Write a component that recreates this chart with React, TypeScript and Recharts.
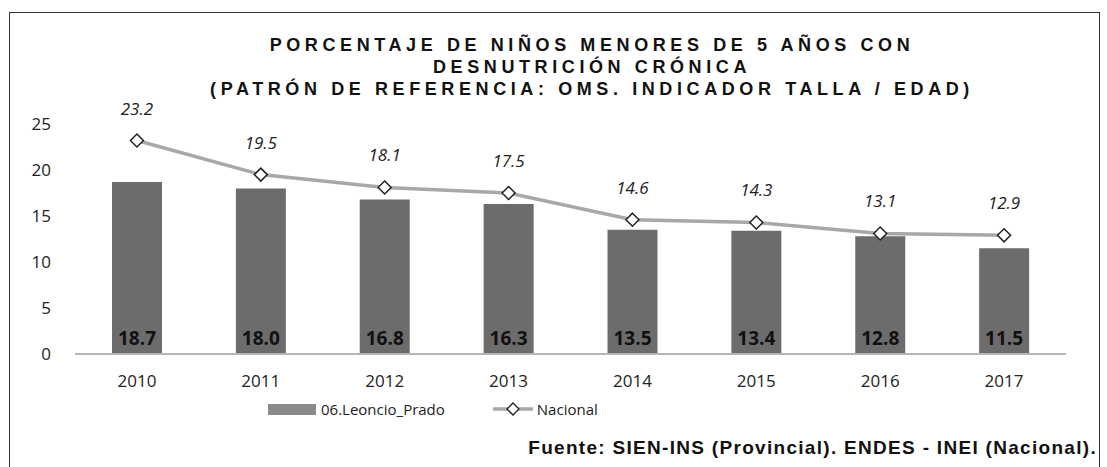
import React from 'react';
import { ComposedChart, Bar, Line, XAxis, YAxis, LabelList } from 'recharts';

const years = ['2010', '2011', '2012', '2013', '2014', '2015', '2016', '2017'];
const leoncioPrado = [18.7, 18.0, 16.8, 16.3, 13.5, 13.4, 12.8, 11.5];
const nacional = [23.2, 19.5, 18.1, 17.5, 14.6, 14.3, 13.1, 12.9];
const yTicks = [0, 5, 10, 15, 20, 25];

const data = years.map((year, i) => ({
  year,
  leoncio: leoncioPrado[i],
  nacional: nacional[i],
}));

const font = '"Liberation Sans", Arial, sans-serif';
const tickFont = '"Open Sans", "DejaVu Sans", sans-serif';

const Diamond = (props: any) => {
  const { cx, cy, index } = props;
  if (cx == null || cy == null) return null;
  const r = 6.5;
  return (
    <polygon
      key={`d-${index}`}
      points={`${cx},${cy - r} ${cx + r},${cy} ${cx},${cy + r} ${cx - r},${cy}`}
      fill="#fff"
      stroke="#222"
      strokeWidth={1.5}
    />
  );
};

const titleStyle: React.CSSProperties = {
  position: 'absolute',
  left: 0,
  width: 1184,
  textAlign: 'center',
  fontFamily: font,
  fontWeight: 'bold',
  fontSize: 18,
  letterSpacing: 4.6,
  color: '#111',
  lineHeight: '22px',
};

export default function App() {
  return (
    <div
      style={{
        position: 'absolute',
        left: 0,
        top: 0,
        width: 1107,
        height: 467,
        overflow: 'hidden',
        background: '#fff',
      }}
    >
      <div
        style={{
          position: 'absolute',
          left: 9,
          top: 12,
          width: 1089,
          height: 480,
          border: '1.5px solid #333',
        }}
      />
      <div style={{ ...titleStyle, top: 34 }}>PORCENTAJE DE NIÑOS MENORES DE 5 AÑOS CON</div>
      <div style={{ ...titleStyle, top: 56 }}>DESNUTRICIÓN CRÓNICA</div>
      <div style={{ ...titleStyle, top: 78 }}>(PATRÓN DE REFERENCIA: OMS. INDICADOR TALLA / EDAD)</div>

      <div style={{ position: 'absolute', left: 0, top: 0 }}>
        <ComposedChart
          width={1107}
          height={467}
          data={data}
          margin={{ top: 124, right: 41, bottom: 83, left: 20 }}
        >
          <XAxis
            dataKey="year"
            height={30}
            tickLine={false}
            axisLine={{ stroke: '#b5b5b5', strokeWidth: 2 }}
            tick={{ fill: '#222', fontSize: 17, fontFamily: tickFont }}
            tickMargin={15}
          />
          <YAxis
            width={55}
            domain={[0, 25]}
            ticks={yTicks}
            axisLine={false}
            tickLine={false}
            tickSize={0}
            tickMargin={24}
            tick={{ fill: '#222', fontSize: 17, fontFamily: tickFont }}
          />
          <Bar dataKey="leoncio" fill="#6c6c6c" barSize={50} isAnimationActive={false}>
            <LabelList
              dataKey="leoncio"
              position="insideBottom"
              offset={9}
              formatter={(v: any) => Number(v).toFixed(1)}
              style={{ fill: '#111', fontSize: 19, fontWeight: 'bold', fontFamily: tickFont }}
            />
          </Bar>
          <Line
            dataKey="nacional"
            type="linear"
            stroke="#a8a8a8"
            strokeWidth={3.5}
            dot={<Diamond />}
            isAnimationActive={false}
          >
            <LabelList
              dataKey="nacional"
              position="top"
              offset={26}
              formatter={(v: any) => Number(v).toFixed(1)}
              style={{ fill: '#222', fontSize: 17, fontStyle: 'italic', fontFamily: tickFont }}
            />
          </Line>
        </ComposedChart>
      </div>

      <div
        style={{
          position: 'absolute',
          top: 399,
          left: 268,
          display: 'flex',
          alignItems: 'center',
          fontFamily: tickFont,
          fontSize: 15,
          color: '#222',
        }}
      >
        <span style={{ display: 'inline-block', width: 48, height: 11, background: '#8a8a8a', marginRight: 5 }} />
        <span>06.Leoncio_Prado</span>
        <svg width={40} height={14} style={{ marginLeft: 48, marginRight: 4 }}>
          <line x1={0} y1={7} x2={40} y2={7} stroke="#a8a8a8" strokeWidth={3.5} />
          <polygon points="20,1 26,7 20,13 14,7" fill="#fff" stroke="#222" strokeWidth={1.3} />
        </svg>
        <span>Nacional</span>
      </div>

      <div
        style={{
          position: 'absolute',
          top: 437,
          right: 10,
          fontFamily: font,
          fontWeight: 'bold',
          fontSize: 19,
          letterSpacing: 1.3,
          color: '#111',
        }}
      >
        Fuente: SIEN-INS (Provincial). ENDES - INEI (Nacional).
      </div>
    </div>
  );
}
